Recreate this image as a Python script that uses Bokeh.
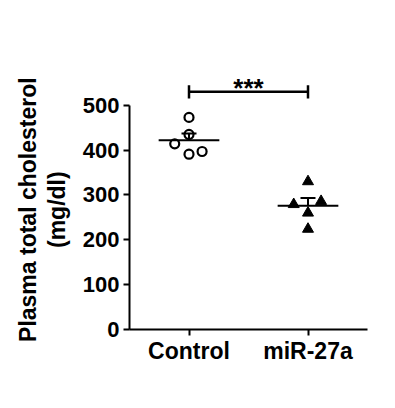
import numpy as np
from bokeh.plotting import figure
from bokeh.models import FixedTicker, Range1d
from bokeh.embed import file_html
from bokeh.resources import INLINE
from bokeh.core.properties import value

# ---- data ----
groups = ["Control", "miR-27a"]
group_pos = [1, 2]
control = [473, 435, 414, 391, 397]
control_jitter = [0.0, 0.0, -0.12, 0.0, 0.11]
mir27a = [330, 279, 286, 260, 224]
mir27a_jitter = [0.0, -0.12, 0.11, 0.0, 0.0]
y_ticks = [0, 100, 200, 300, 400, 500]
y_label_lines = ["Plasma total cholesterol", "(mg/dl)"]
significance = "***"
bracket_y = 530
bracket_half = 15
star_y = 539

FONT = "Liberation Sans"

p = figure(width=387, height=400, output_backend="svg", toolbar_location=None,
           x_range=Range1d(0.5, 2.5), y_range=Range1d(0, 620),
           min_border_left=129, min_border_right=20, min_border_top=51,
           min_border_bottom=71)
p.outline_line_color = None
p.grid.visible = False
p.background_fill_color = "white"
p.border_fill_color = "white"

# points
cx = [group_pos[0] + j for j in control_jitter]
mx = [group_pos[1] + j for j in mir27a_jitter]
p.scatter(cx, control, marker="circle", size=9, fill_color="white",
          line_color="black", line_width=2.2)
p.scatter(mx, mir27a, marker="triangle", size=11, fill_color="black",
          line_color="black", line_width=1)

# mean and SEM (upper)
for pos, vals in zip(group_pos, [control, mir27a]):
    arr = np.array(vals, dtype=float)
    m = arr.mean()
    sem = arr.std(ddof=1) / np.sqrt(len(arr))
    p.segment(x0=[pos - 0.255], x1=[pos + 0.255], y0=[m], y1=[m],
              line_color="black", line_width=2)
    p.segment(x0=[pos], x1=[pos], y0=[m], y1=[m + sem],
              line_color="black", line_width=2)
    p.segment(x0=[pos - 0.063], x1=[pos + 0.063], y0=[m + sem], y1=[m + sem],
              line_color="black", line_width=2)

# significance bracket
p.segment(x0=[group_pos[0]], x1=[group_pos[1]], y0=[bracket_y], y1=[bracket_y],
          line_color="black", line_width=2.5)
p.segment(x0=group_pos, x1=group_pos,
          y0=[bracket_y - bracket_half] * 2, y1=[bracket_y + bracket_half] * 2,
          line_color="black", line_width=2.5)
p.text(x=[(group_pos[0] + group_pos[1]) / 2], y=[star_y], text=[significance],
       text_font=value(FONT), text_font_style="bold", text_font_size="26px",
       text_align="center", text_baseline="alphabetic", text_color="black")

# axes
for ax in (p.xaxis[0], p.yaxis[0]):
    ax.axis_line_width = 2
    ax.axis_line_color = "black"
    ax.major_tick_line_width = 2
    ax.major_tick_line_color = "black"
    ax.major_tick_in = 0
    ax.major_tick_out = 6
    ax.minor_tick_line_color = None
    ax.major_label_text_font = FONT
    ax.major_label_text_font_style = "bold"
    ax.major_label_text_color = "black"

p.yaxis.ticker = FixedTicker(ticks=y_ticks)
p.yaxis.bounds = (0, 500)
p.yaxis.major_label_text_font_size = "22px"
p.yaxis.major_label_standoff = 4
# trailing no-break spaces shift the title down so it centres on the 0-500 axis
pad = "\u00a0" * 6
p.yaxis.axis_label = "\n".join(line + pad for line in y_label_lines)
p.yaxis.axis_label_text_font = FONT
p.yaxis.axis_label_text_font_style = "bold"
p.yaxis.axis_label_text_font_size = "23px"
p.yaxis.axis_label_text_color = "black"
p.yaxis.axis_label_text_line_height = 1.1
p.yaxis.axis_label_standoff = 10

p.xaxis.ticker = FixedTicker(ticks=group_pos)
p.xaxis.major_label_overrides = {group_pos[i]: groups[i] for i in range(2)}
p.xaxis.major_label_text_font_size = "23px"
p.xaxis.major_label_standoff = 2

open("out.html", "w").write(file_html(p, INLINE))
